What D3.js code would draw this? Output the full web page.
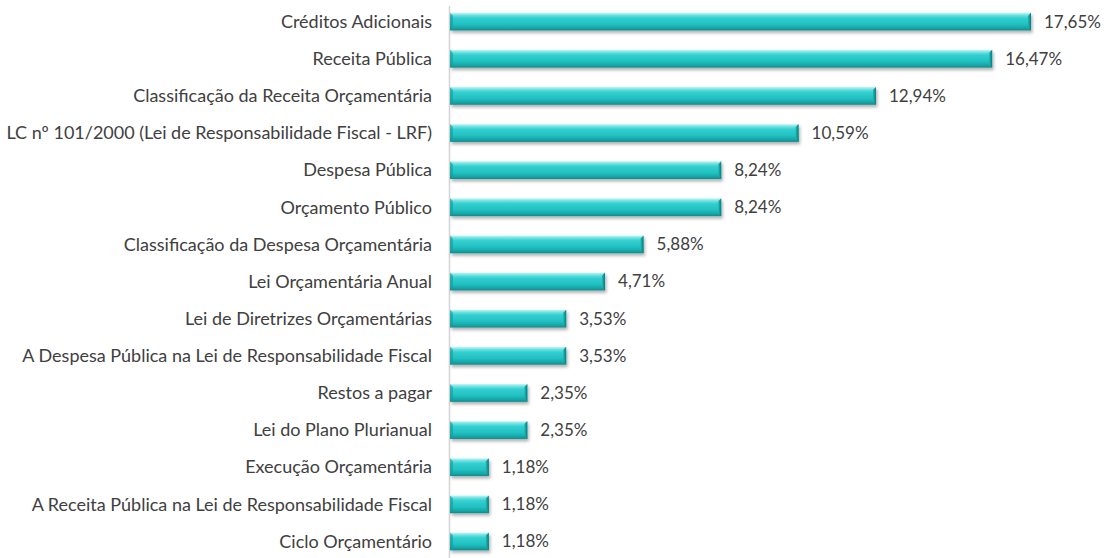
<!DOCTYPE html>
<html>
<head>
<meta charset="utf-8">
<script src="https://cdn.jsdelivr.net/npm/d3@7"></script>
<style>
  body { margin: 0; background: #fff; }
  text { font-family: Lato, sans-serif; fill: #404040; }
</style>
</head>
<body>
<svg width="1110" height="558"></svg>
<script>
const categories = [
  "Créditos Adicionais",
  "Receita Pública",
  "Classificação da Receita Orçamentária",
  "LC nº 101/2000 (Lei de Responsabilidade Fiscal - LRF)",
  "Despesa Pública",
  "Orçamento Público",
  "Classificação da Despesa Orçamentária",
  "Lei Orçamentária Anual",
  "Lei de Diretrizes Orçamentárias",
  "A Despesa Pública na Lei de Responsabilidade Fiscal",
  "Restos a pagar",
  "Lei do Plano Plurianual",
  "Execução Orçamentária",
  "A Receita Pública na Lei de Responsabilidade Fiscal",
  "Ciclo Orçamentário"
];
const values = [17.65, 16.47, 12.94, 10.59, 8.24, 8.24, 5.88, 4.71, 3.53, 3.53, 2.35, 2.35, 1.18, 1.18, 1.18];

const svg = d3.select('svg');
const axisLeft = 450, plotTop = 3, plotBottom = 558;

const x = d3.scaleLinear().domain([0, 17.65]).range([axisLeft, 1031]);
const y = d3.scaleBand().domain(categories).range([plotTop, plotBottom + 2]).paddingInner(0.52).paddingOuter(0.26);

const defs = svg.append('defs');
const grad = defs.append('linearGradient').attr('id', 'barGrad')
  .attr('x1', 0).attr('y1', 0).attr('x2', 0).attr('y2', 1);
[[0, '#c8f7f7'], [0.14, '#6ee2e2'], [0.3, '#33cfd0'], [0.65, '#22c0c1'], [0.85, '#17a8a9'], [1, '#0f8a8b']]
  .forEach(function(s){ grad.append('stop').attr('offset', s[0]).attr('stop-color', s[1]); });

const capGrad = defs.append('linearGradient').attr('id', 'capGrad')
  .attr('x1', 0).attr('y1', 0).attr('x2', 1).attr('y2', 0);
capGrad.append('stop').attr('offset', 0).attr('stop-color', '#1fb8b8');
capGrad.append('stop').attr('offset', 1).attr('stop-color', '#0a7a7a');

const shadow = defs.append('filter').attr('id', 'shadow')
  .attr('x', '-5%').attr('y', '-30%').attr('width', '115%').attr('height', '190%');
shadow.append('feDropShadow').attr('dx', 1.5).attr('dy', 2.5).attr('stdDeviation', 1.6)
  .attr('flood-color', '#000').attr('flood-opacity', 0.3);

// axis line
svg.append('line')
  .attr('x1', axisLeft - 0.5).attr('x2', axisLeft - 0.5)
  .attr('y1', 6).attr('y2', 558)
  .attr('stroke', '#d4d4d4').attr('stroke-width', 1.5);

const bars = svg.selectAll('g.bar').data(categories).enter().append('g').attr('class', 'bar');

bars.append('rect')
  .attr('x', axisLeft)
  .attr('y', function(d){ return y(d); })
  .attr('width', function(d, i){ return x(values[i]) - axisLeft; })
  .attr('height', y.bandwidth())
  .attr('fill', 'url(#barGrad)')
  .attr('filter', 'url(#shadow)');

// right bevel cap
bars.append('path')
  .attr('d', function(d, i){
    const xe = x(values[i]), yt = y(d), h = y.bandwidth();
    return 'M' + (xe - 3) + ',' + (yt + 3) + 'L' + xe + ',' + yt + 'L' + xe + ',' + (yt + h) + 'L' + (xe - 3) + ',' + (yt + h - 3) + 'Z';
  })
  .attr('fill', 'url(#capGrad)');

// left bevel highlight
bars.append('path')
  .attr('d', function(d){
    const yt = y(d), h = y.bandwidth();
    return 'M' + axisLeft + ',' + yt + 'L' + (axisLeft + 3) + ',' + (yt + 3) + 'L' + (axisLeft + 3) + ',' + (yt + h - 3) + 'L' + axisLeft + ',' + (yt + h) + 'Z';
  })
  .attr('fill', '#149a9a').attr('opacity', 0.6);

// category labels
svg.selectAll('text.cat').data(categories).enter().append('text')
  .attr('class', 'cat')
  .attr('x', 432)
  .attr('y', function(d){ return y(d) + y.bandwidth() / 2; })
  .attr('dy', '0.35em')
  .attr('text-anchor', 'end')
  .style('font-size', '18px')
  .text(function(d){ return d; });

// value labels
const fmt = function(v){ return v.toFixed(2).replace('.', ',') + '%'; };
svg.selectAll('text.val').data(values).enter().append('text')
  .attr('class', 'val')
  .attr('x', function(d){ return x(d) + 13; })
  .attr('y', function(d, i){ return y(categories[i]) + y.bandwidth() / 2; })
  .attr('dy', '0.35em')
  .style('font-size', '17px')
  .text(fmt);
</script>
</body>
</html>
